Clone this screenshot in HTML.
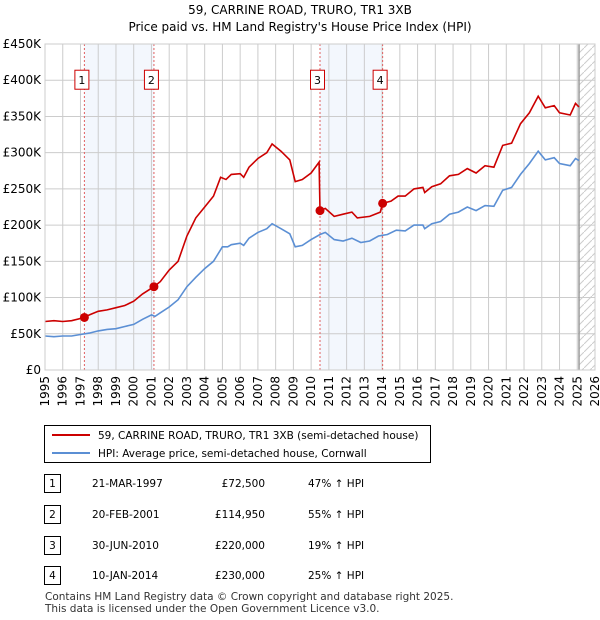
<!DOCTYPE html>
<html><head><meta charset="utf-8"><style>
body{margin:0;background:#fff;font-family:"DejaVu Sans","Liberation Sans",sans-serif;}
#wrap{position:relative;width:600px;height:620px;}
svg{font-family:"DejaVu Sans","Liberation Sans",sans-serif;}
</style></head><body>
<div id="wrap">
<svg id="chart" width="600" height="420" style="position:absolute;left:0;top:0"></svg>
<svg width="600" height="200" style="position:absolute;left:0;top:420">
 <rect x="44.5" y="5.5" width="386" height="37" fill="#fff" stroke="#000"/>
 <line x1="52" y1="15" x2="90" y2="15" stroke="#cc0000" stroke-width="2"/>
 <text x="98" y="19" font-size="10.5">59, CARRINE ROAD, TRURO, TR1 3XB (semi-detached house)</text>
 <line x1="52" y1="33" x2="90" y2="33" stroke="#5b8fd4" stroke-width="2"/>
 <text x="98" y="37" font-size="10.5">HPI: Average price, semi-detached house, Cornwall</text>
 <g font-size="10.5">
  <rect x="44.5" y="54.5" width="16" height="18" fill="#fff" stroke="#000"/><text x="52.5" y="67" text-anchor="middle">1</text>
  <text x="92" y="67">21-MAR-1997</text><text x="265" y="67" text-anchor="end">£72,500</text><text x="308" y="67">47% ↑ HPI</text>
  <rect x="44.5" y="85.5" width="16" height="18" fill="#fff" stroke="#000"/><text x="52.5" y="98" text-anchor="middle">2</text>
  <text x="92" y="98">20-FEB-2001</text><text x="265" y="98" text-anchor="end">£114,950</text><text x="308" y="98">55% ↑ HPI</text>
  <rect x="44.5" y="116.5" width="16" height="18" fill="#fff" stroke="#000"/><text x="52.5" y="129" text-anchor="middle">3</text>
  <text x="92" y="129">30-JUN-2010</text><text x="265" y="129" text-anchor="end">£220,000</text><text x="308" y="129">19% ↑ HPI</text>
  <rect x="44.5" y="146.5" width="16" height="18" fill="#fff" stroke="#000"/><text x="52.5" y="159" text-anchor="middle">4</text>
  <text x="92" y="159">10-JAN-2014</text><text x="265" y="159" text-anchor="end">£230,000</text><text x="308" y="159">25% ↑ HPI</text>
 </g>
 <text x="45" y="180" font-size="10.5" fill="#333">Contains HM Land Registry data © Crown copyright and database right 2025.</text>
 <text x="45" y="192" font-size="10.5" fill="#333">This data is licensed under the Open Government Licence v3.0.</text>
</svg>
</div>
<script>
const yTicks=[0,50,100,150,200,250,300,350,400,450];
const yTickLabels=["£0","£50K","£100K","£150K","£200K","£250K","£300K","£350K","£400K","£450K"];
const xYears=[1995,1996,1997,1998,1999,2000,2001,2002,2003,2004,2005,2006,2007,2008,2009,2010,2011,2012,2013,2014,2015,2016,2017,2018,2019,2020,2021,2022,2023,2024,2025,2026];
const hpiT=[1995,1995.5,1996,1996.5,1997,1997.5,1998,1998.5,1999,1999.5,2000,2000.5,2001,2001.2,2001.5,2002,2002.5,2003,2003.5,2004,2004.5,2005,2005.3,2005.5,2006,2006.2,2006.5,2007,2007.5,2007.8,2008.3,2008.8,2009.1,2009.5,2010,2010.5,2010.8,2011.3,2011.8,2012.3,2012.8,2013.3,2013.8,2014.3,2014.8,2015.3,2015.8,2016.3,2016.4,2016.8,2017.3,2017.8,2018.3,2018.8,2019.3,2019.8,2020.3,2020.8,2021.3,2021.8,2022.3,2022.8,2023.2,2023.7,2024.0,2024.6,2024.9,2025.1];
const hpiV=[47,46,47,47,49,51,54,56,57,60,63,70,76,74,79,87,97,115,128,140,150,170,170,173,175,172,182,190,195,202,195,188,170,172,180,187,190,180,178,182,176,178,185,187,193,192,200,200,195,202,205,215,218,225,220,227,226,248,252,270,285,302,290,293,285,282,292,289];
const priceT=[1995,1995.5,1996,1996.5,1997.22,1997.5,1998,1998.5,1999,1999.5,2000,2000.5,2001.14,2001.5,2002,2002.5,2003,2003.5,2004,2004.5,2004.9,2005.2,2005.5,2006,2006.2,2006.5,2007,2007.5,2007.8,2008.3,2008.8,2009.1,2009.5,2010,2010.45,2010.5,2010.8,2011.3,2011.8,2012.3,2012.6,2013.3,2013.9,2014.03,2014.5,2014.9,2015.3,2015.8,2016.3,2016.4,2016.8,2017.3,2017.8,2018.3,2018.8,2019.3,2019.8,2020.3,2020.8,2021.3,2021.8,2022.3,2022.8,2023.2,2023.7,2024.0,2024.6,2024.9,2025.1];
const priceV=[67,68,67,68,72.5,76,81,83,86,89,95,105,114.95,122,138,150,185,210,225,240,266,263,270,271,266,280,292,300,312,302,290,260,263,272,287,220,223,212,215,218,210,212,218,230,233,240,240,250,252,245,253,257,268,270,278,272,282,280,310,313,340,355,378,362,365,355,352,368,363];
const saleT=[1997.22,2001.14,2010.5,2014.03];
const saleV=[72.5,114.95,220,230];
const saleLabels=["1","2","3","4"];

const NS="http://www.w3.org/2000/svg";
const svg=document.getElementById('chart');
const X0=45,X1=595,Y0=370,Y1=44;
const xs=t=>X0+(t-1995)/(2026-1995)*(X1-X0);
const ys=v=>Y0-v/450*(Y0-Y1);
function mk(tag,attrs,parent){const e=document.createElementNS(NS,tag);for(const k in attrs)e.setAttribute(k,attrs[k]);(parent||svg).appendChild(e);return e;}

const title=mk('text',{x:300,y:14,'text-anchor':'middle','font-size':'12'});
title.textContent="59, CARRINE ROAD, TRURO, TR1 3XB";


const sub=mk('text',{x:300,y:31,'text-anchor':'middle','font-size':'12'});
sub.textContent="Price paid vs. HM Land Registry's House Price Index (HPI)";



for(let i=0;i<saleT.length;i+=2){
 const b=mk('rect',{x:xs(saleT[i]),y:Y1,width:xs(saleT[i+1])-xs(saleT[i]),height:Y0-Y1,fill:'#eef3fc',opacity:0.7});
 
 
}
const defs=mk('defs',{});
const pat=mk('pattern',{id:'hatch',width:8,height:8,patternUnits:'userSpaceOnUse'},defs);
mk('path',{d:'M0,8 L8,0',stroke:'#ccc','stroke-width':1},pat);
const hx=xs(2025.1);
const hr=mk('rect',{x:hx,y:Y1,width:X1-hx,height:Y0-Y1,fill:'url(#hatch)'});



yTicks.forEach((v,i)=>{
 const l=mk('line',{x1:X0,x2:X1,y1:ys(v),y2:ys(v),stroke:'#ccc'});
 
 
 const t=mk('text',{x:41,y:ys(v)+4,'text-anchor':'end','font-size':'12'});
 t.textContent=yTickLabels[i];
 
 
});
xYears.forEach(y=>{
 const l=mk('line',{x1:xs(y),x2:xs(y),y1:Y1,y2:Y0,stroke:'#ccc'});
 
 
 const t=mk('text',{x:0,y:0,'text-anchor':'end','font-size':'12',transform:`translate(${xs(y)+4},${Y0+6}) rotate(-90)`});
 t.textContent=y;
 
 
});
const vl=mk('line',{x1:hx,x2:hx,y1:Y1,y2:Y0,stroke:'#999','stroke-width':1.5});



saleT.forEach((t,i)=>{
 const l=mk('line',{x1:xs(t),x2:xs(t),y1:Y1,y2:Y0,stroke:'#e06060','stroke-dasharray':'2,2'});
 
 
 const r=mk('rect',{x:xs(t)-9.5,y:ys(400)-10,width:14,height:19,fill:'#fff',stroke:'#cc0000'});
 
 
 const tx=mk('text',{x:xs(t)-2.5,y:ys(400)+4,'text-anchor':'middle','font-size':'11'});
 tx.textContent=saleLabels[i];
 
 
});

function line(T,V,c,name){
 const d=T.map((t,i)=>(i?'L':'M')+xs(t).toFixed(1)+','+ys(V[i]).toFixed(1)).join(' ');
 const p=mk('path',{d:d,fill:'none',stroke:c,'stroke-width':1.6});
 
 
}
line(hpiT,hpiV,'#5b8fd4','hpi-line');
line(priceT,priceV,'#cc0000','price-line');
saleT.forEach((t,i)=>{
 const c=mk('circle',{cx:xs(t),cy:ys(saleV[i]),r:4.5,fill:'#cc0000'});
 
 
});
const fr=mk('rect',{x:X0,y:Y1,width:X1-X0,height:Y0-Y1,fill:'none',stroke:'#ccc'});


</script>
</body></html>
